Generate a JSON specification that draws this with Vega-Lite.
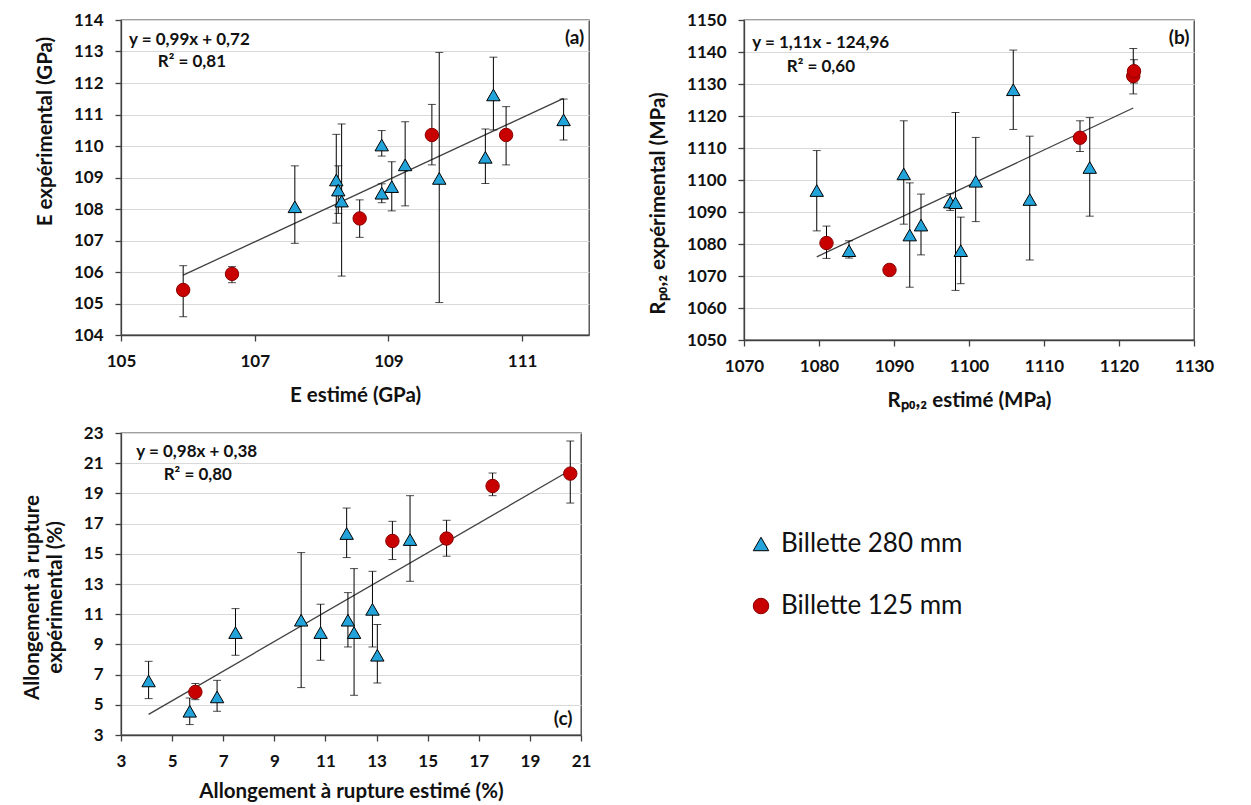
{
  "$schema": "https://vega.github.io/schema/vega-lite/v6.json",
  "background": "white",
  "padding": {"left": 22, "top": 10, "right": 5, "bottom": 5},
  "columns": 2,
  "align": "each",
  "spacing": {"row": 11, "column": 55},
  "datasets": {
    "a": [
      {"est": 107.60, "exp": 108.07, "lo": 106.91, "hi": 109.37, "series": "Billette 280 mm"},
      {"est": 108.22, "exp": 108.92, "lo": 107.55, "hi": 110.37, "series": "Billette 280 mm"},
      {"est": 108.25, "exp": 108.60, "lo": 107.86, "hi": 109.37, "series": "Billette 280 mm"},
      {"est": 108.30, "exp": 108.25, "lo": 105.87, "hi": 110.70, "series": "Billette 280 mm"},
      {"est": 108.90, "exp": 110.03, "lo": 109.68, "hi": 110.49, "series": "Billette 280 mm"},
      {"est": 108.90, "exp": 108.50, "lo": 108.20, "hi": 108.80, "series": "Billette 280 mm"},
      {"est": 109.05, "exp": 108.71, "lo": 107.94, "hi": 109.50, "series": "Billette 280 mm"},
      {"est": 109.25, "exp": 109.40, "lo": 108.10, "hi": 110.77, "series": "Billette 280 mm"},
      {"est": 109.76, "exp": 108.97, "lo": 105.03, "hi": 112.97, "series": "Billette 280 mm"},
      {"est": 110.45, "exp": 109.64, "lo": 108.81, "hi": 110.54, "series": "Billette 280 mm"},
      {"est": 110.57, "exp": 111.62, "lo": 110.51, "hi": 112.82, "series": "Billette 280 mm"},
      {"est": 111.62, "exp": 110.83, "lo": 110.19, "hi": 111.49, "series": "Billette 280 mm"},
      {"est": 105.93, "exp": 105.43, "lo": 104.58, "hi": 106.20, "series": "Billette 125 mm"},
      {"est": 106.66, "exp": 105.94, "lo": 105.66, "hi": 106.17, "series": "Billette 125 mm"},
      {"est": 108.57, "exp": 107.70, "lo": 107.10, "hi": 108.29, "series": "Billette 125 mm"},
      {"est": 109.65, "exp": 110.35, "lo": 109.40, "hi": 111.32, "series": "Billette 125 mm"},
      {"est": 110.76, "exp": 110.35, "lo": 109.40, "hi": 111.25, "series": "Billette 125 mm"}
    ],
    "ta": [{"est": 105.93, "exp": 105.90}, {"est": 111.62, "exp": 111.51}],
    "b": [
      {"est": 1079.7, "exp": 1096.7, "lo": 1084.1, "hi": 1109.2, "series": "Billette 280 mm"},
      {"est": 1084.0, "exp": 1077.9, "lo": 1075.6, "hi": 1081.0, "series": "Billette 280 mm"},
      {"est": 1091.3, "exp": 1101.9, "lo": 1086.2, "hi": 1118.5, "series": "Billette 280 mm"},
      {"est": 1092.1, "exp": 1082.8, "lo": 1066.5, "hi": 1099.1, "series": "Billette 280 mm"},
      {"est": 1093.6, "exp": 1085.9, "lo": 1076.6, "hi": 1095.6, "series": "Billette 280 mm"},
      {"est": 1097.5, "exp": 1093.1, "lo": 1090.5, "hi": 1095.7, "series": "Billette 280 mm"},
      {"est": 1098.2, "exp": 1092.9, "lo": 1065.5, "hi": 1121.1, "series": "Billette 280 mm"},
      {"est": 1098.9, "exp": 1077.9, "lo": 1067.6, "hi": 1088.4, "series": "Billette 280 mm"},
      {"est": 1100.9, "exp": 1099.6, "lo": 1087.0, "hi": 1113.3, "series": "Billette 280 mm"},
      {"est": 1105.9, "exp": 1128.2, "lo": 1115.8, "hi": 1140.6, "series": "Billette 280 mm"},
      {"est": 1108.1, "exp": 1093.9, "lo": 1075.0, "hi": 1113.7, "series": "Billette 280 mm"},
      {"est": 1116.1, "exp": 1103.9, "lo": 1088.7, "hi": 1119.5, "series": "Billette 280 mm"},
      {"est": 1081.0, "exp": 1080.3, "lo": 1075.5, "hi": 1085.6, "series": "Billette 125 mm"},
      {"est": 1089.4, "exp": 1071.9, "lo": 1070.6, "hi": 1073.2, "series": "Billette 125 mm"},
      {"est": 1114.8, "exp": 1113.2, "lo": 1108.9, "hi": 1118.5, "series": "Billette 125 mm"},
      {"est": 1121.9, "exp": 1132.5, "lo": 1126.9, "hi": 1141.1, "series": "Billette 125 mm"},
      {"est": 1122.0, "exp": 1134.0, "lo": 1130.3, "hi": 1137.6, "series": "Billette 125 mm"}
    ],
    "tb": [{"est": 1079.7, "exp": 1076.0}, {"est": 1121.9, "exp": 1122.5}],
    "c": [
      {"est": 4.08, "exp": 6.58, "lo": 5.41, "hi": 7.88, "series": "Billette 280 mm"},
      {"est": 5.69, "exp": 4.57, "lo": 3.69, "hi": 5.45, "series": "Billette 280 mm"},
      {"est": 6.76, "exp": 5.52, "lo": 4.57, "hi": 6.62, "series": "Billette 280 mm"},
      {"est": 7.48, "exp": 9.78, "lo": 8.28, "hi": 11.37, "series": "Billette 280 mm"},
      {"est": 10.05, "exp": 10.60, "lo": 6.14, "hi": 15.08, "series": "Billette 280 mm"},
      {"est": 10.81, "exp": 9.78, "lo": 7.95, "hi": 11.66, "series": "Billette 280 mm"},
      {"est": 11.83, "exp": 16.34, "lo": 14.75, "hi": 18.03, "series": "Billette 280 mm"},
      {"est": 11.88, "exp": 10.60, "lo": 8.83, "hi": 12.43, "series": "Billette 280 mm"},
      {"est": 12.12, "exp": 9.78, "lo": 5.63, "hi": 14.02, "series": "Billette 280 mm"},
      {"est": 12.84, "exp": 11.32, "lo": 8.83, "hi": 13.84, "series": "Billette 280 mm"},
      {"est": 13.03, "exp": 8.28, "lo": 6.44, "hi": 10.31, "series": "Billette 280 mm"},
      {"est": 14.31, "exp": 15.94, "lo": 13.18, "hi": 18.85, "series": "Billette 280 mm"},
      {"est": 5.91, "exp": 5.85, "lo": 5.34, "hi": 6.41, "series": "Billette 125 mm"},
      {"est": 13.62, "exp": 15.85, "lo": 14.62, "hi": 17.15, "series": "Billette 125 mm"},
      {"est": 15.74, "exp": 16.01, "lo": 14.84, "hi": 17.22, "series": "Billette 125 mm"},
      {"est": 17.54, "exp": 19.49, "lo": 18.85, "hi": 20.35, "series": "Billette 125 mm"},
      {"est": 20.58, "exp": 20.31, "lo": 18.36, "hi": 22.47, "series": "Billette 125 mm"}
    ],
    "tc": [{"est": 4.08, "exp": 4.37}, {"est": 20.58, "exp": 20.53}]
  },
  "concat": [
    {
      "width": 468, "height": 315,
      "layer": [
        {"data": {"name": "ta"}, "mark": {"type": "line", "color": "#404040", "strokeWidth": 1.3},
         "encoding": {
           "x": {"field": "est", "type": "quantitative", "scale": {"domain": [105, 112], "nice": false, "zero": false}, "axis": {"values": [105, 107, 109, 111], "tickCount": 30, "format": "d", "title": "E estimé (GPa)", "grid": false}},
           "y": {"field": "exp", "type": "quantitative", "scale": {"domain": [104, 114], "nice": false, "zero": false}, "axis": {"values": [104, 105, 106, 107, 108, 109, 110, 111, 112, 113, 114], "tickCount": 30, "format": "d", "title": "E expérimental (GPa)", "titleY": 111}}}},
        {"data": {"name": "a"}, "mark": {"type": "rule", "color": "black", "strokeWidth": 1},
         "encoding": {"x": {"field": "est", "type": "quantitative", "scale": {"domain": [105, 112], "nice": false, "zero": false}},
           "y": {"field": "lo", "type": "quantitative", "scale": {"domain": [104, 114], "nice": false, "zero": false}}, "y2": {"field": "hi"}}},
        {"data": {"name": "a"}, "mark": {"type": "tick", "orient": "horizontal", "color": "black", "size": 8, "thickness": 1},
         "encoding": {"x": {"field": "est", "type": "quantitative", "scale": {"domain": [105, 112], "nice": false, "zero": false}},
           "y": {"field": "lo", "type": "quantitative", "scale": {"domain": [104, 114], "nice": false, "zero": false}}}},
        {"data": {"name": "a"}, "mark": {"type": "tick", "orient": "horizontal", "color": "black", "size": 8, "thickness": 1},
         "encoding": {"x": {"field": "est", "type": "quantitative", "scale": {"domain": [105, 112], "nice": false, "zero": false}},
           "y": {"field": "hi", "type": "quantitative", "scale": {"domain": [104, 114], "nice": false, "zero": false}}}},
        {"data": {"name": "a"}, "mark": {"type": "point", "filled": true, "size": 180, "strokeWidth": 1, "opacity": 1},
         "encoding": {"x": {"field": "est", "type": "quantitative", "scale": {"domain": [105, 112], "nice": false, "zero": false}},
           "y": {"field": "exp", "type": "quantitative", "scale": {"domain": [104, 114], "nice": false, "zero": false}},
           "color": {"field": "series", "type": "nominal", "scale": {"domain": ["Billette 280 mm", "Billette 125 mm"], "range": ["#22A3D9", "#C80000"]}, "legend": {"title": null}},
           "shape": {"field": "series", "type": "nominal", "scale": {"domain": ["Billette 280 mm", "Billette 125 mm"], "range": ["triangle-up", "circle"]}, "legend": {"title": null}},
           "stroke": {"field": "series", "type": "nominal", "scale": {"domain": ["Billette 280 mm", "Billette 125 mm"], "range": ["#000000", "#8a0000"]}, "legend": {"title": null}}}},
        {"data": {"values": [{"t": "y = 0,99x + 0,72"}]}, "mark": {"type": "text", "align": "left", "baseline": "middle", "fontSize": 17, "fontWeight": "bold", "font": "Lato", "color": "#111"},
         "encoding": {"x": {"datum": 105.12, "type": "quantitative"}, "y": {"datum": 113.37, "type": "quantitative"}, "text": {"field": "t"}}},
        {"data": {"values": [{"t": "R² = 0,81"}]}, "mark": {"type": "text", "align": "left", "baseline": "middle", "fontSize": 17, "fontWeight": "bold", "font": "Lato", "color": "#111"},
         "encoding": {"x": {"datum": 105.55, "type": "quantitative"}, "y": {"datum": 112.66, "type": "quantitative"}, "text": {"field": "t"}}},
        {"data": {"values": [{"t": "(a)"}]}, "mark": {"type": "text", "align": "right", "baseline": "middle", "fontSize": 19, "fontWeight": "bold", "font": "Lato", "color": "#111"},
         "encoding": {"x": {"datum": 111.93, "type": "quantitative"}, "y": {"datum": 113.44, "type": "quantitative"}, "text": {"field": "t"}}}
      ]
    },
    {
      "width": 450, "height": 320,
      "layer": [
        {"data": {"name": "tb"}, "mark": {"type": "line", "color": "#404040", "strokeWidth": 1.3},
         "encoding": {
           "x": {"field": "est", "type": "quantitative", "scale": {"domain": [1070, 1130], "nice": false, "zero": false}, "axis": {"values": [1070, 1080, 1090, 1100, 1110, 1120, 1130], "tickCount": 30, "format": "d", "title": "Rₚ₀,₂ estimé (MPa)", "grid": false}},
           "y": {"field": "exp", "type": "quantitative", "scale": {"domain": [1050, 1150], "nice": false, "zero": false}, "axis": {"values": [1050, 1060, 1070, 1080, 1090, 1100, 1110, 1120, 1130, 1140, 1150], "tickCount": 30, "format": "d", "title": "Rₚ₀,₂ expérimental (MPa)", "titleY": 183}}}},
        {"data": {"name": "b"}, "mark": {"type": "rule", "color": "black", "strokeWidth": 1},
         "encoding": {"x": {"field": "est", "type": "quantitative", "scale": {"domain": [1070, 1130], "nice": false, "zero": false}},
           "y": {"field": "lo", "type": "quantitative", "scale": {"domain": [1050, 1150], "nice": false, "zero": false}}, "y2": {"field": "hi"}}},
        {"data": {"name": "b"}, "mark": {"type": "tick", "orient": "horizontal", "color": "black", "size": 8, "thickness": 1},
         "encoding": {"x": {"field": "est", "type": "quantitative", "scale": {"domain": [1070, 1130], "nice": false, "zero": false}},
           "y": {"field": "lo", "type": "quantitative", "scale": {"domain": [1050, 1150], "nice": false, "zero": false}}}},
        {"data": {"name": "b"}, "mark": {"type": "tick", "orient": "horizontal", "color": "black", "size": 8, "thickness": 1},
         "encoding": {"x": {"field": "est", "type": "quantitative", "scale": {"domain": [1070, 1130], "nice": false, "zero": false}},
           "y": {"field": "hi", "type": "quantitative", "scale": {"domain": [1050, 1150], "nice": false, "zero": false}}}},
        {"data": {"name": "b"}, "mark": {"type": "point", "filled": true, "size": 180, "strokeWidth": 1, "opacity": 1},
         "encoding": {"x": {"field": "est", "type": "quantitative", "scale": {"domain": [1070, 1130], "nice": false, "zero": false}},
           "y": {"field": "exp", "type": "quantitative", "scale": {"domain": [1050, 1150], "nice": false, "zero": false}},
           "color": {"field": "series", "type": "nominal", "scale": {"domain": ["Billette 280 mm", "Billette 125 mm"], "range": ["#22A3D9", "#C80000"]}, "legend": {"title": null}},
           "shape": {"field": "series", "type": "nominal", "scale": {"domain": ["Billette 280 mm", "Billette 125 mm"], "range": ["triangle-up", "circle"]}, "legend": {"title": null}},
           "stroke": {"field": "series", "type": "nominal", "scale": {"domain": ["Billette 280 mm", "Billette 125 mm"], "range": ["#000000", "#8a0000"]}, "legend": {"title": null}}}},
        {"data": {"values": [{"t": "y = 1,11x - 124,96"}]}, "mark": {"type": "text", "align": "left", "baseline": "middle", "fontSize": 17, "fontWeight": "bold", "font": "Lato", "color": "#111"},
         "encoding": {"x": {"datum": 1071.1, "type": "quantitative"}, "y": {"datum": 1142.7, "type": "quantitative"}, "text": {"field": "t"}}},
        {"data": {"values": [{"t": "R² = 0,60"}]}, "mark": {"type": "text", "align": "left", "baseline": "middle", "fontSize": 17, "fontWeight": "bold", "font": "Lato", "color": "#111"},
         "encoding": {"x": {"datum": 1075.7, "type": "quantitative"}, "y": {"datum": 1135.4, "type": "quantitative"}, "text": {"field": "t"}}},
        {"data": {"values": [{"t": "(b)"}]}, "mark": {"type": "text", "align": "right", "baseline": "middle", "fontSize": 19, "fontWeight": "bold", "font": "Lato", "color": "#111"},
         "encoding": {"x": {"datum": 1129.4, "type": "quantitative"}, "y": {"datum": 1144.3, "type": "quantitative"}, "text": {"field": "t"}}}
      ]
    },
    {
      "width": 460, "height": 302,
      "layer": [
        {"data": {"name": "tc"}, "mark": {"type": "line", "color": "#404040", "strokeWidth": 1.3},
         "encoding": {
           "x": {"field": "est", "type": "quantitative", "scale": {"domain": [3, 21], "nice": false, "zero": false}, "axis": {"values": [3, 5, 7, 9, 11, 13, 15, 17, 19, 21], "tickCount": 30, "format": "d", "title": "Allongement à rupture estimé (%)", "grid": false, "titlePadding": 12}},
           "y": {"field": "exp", "type": "quantitative", "scale": {"domain": [3, 23], "nice": false, "zero": false}, "axis": {"values": [3, 5, 7, 9, 11, 13, 15, 17, 19, 21, 23], "tickCount": 30, "format": "d", "title": ["Allongement à rupture", "expérimental (%)"], "titleY": 164}}}},
        {"data": {"name": "c"}, "mark": {"type": "rule", "color": "black", "strokeWidth": 1},
         "encoding": {"x": {"field": "est", "type": "quantitative", "scale": {"domain": [3, 21], "nice": false, "zero": false}},
           "y": {"field": "lo", "type": "quantitative", "scale": {"domain": [3, 23], "nice": false, "zero": false}}, "y2": {"field": "hi"}}},
        {"data": {"name": "c"}, "mark": {"type": "tick", "orient": "horizontal", "color": "black", "size": 8, "thickness": 1},
         "encoding": {"x": {"field": "est", "type": "quantitative", "scale": {"domain": [3, 21], "nice": false, "zero": false}},
           "y": {"field": "lo", "type": "quantitative", "scale": {"domain": [3, 23], "nice": false, "zero": false}}}},
        {"data": {"name": "c"}, "mark": {"type": "tick", "orient": "horizontal", "color": "black", "size": 8, "thickness": 1},
         "encoding": {"x": {"field": "est", "type": "quantitative", "scale": {"domain": [3, 21], "nice": false, "zero": false}},
           "y": {"field": "hi", "type": "quantitative", "scale": {"domain": [3, 23], "nice": false, "zero": false}}}},
        {"data": {"name": "c"}, "mark": {"type": "point", "filled": true, "size": 180, "strokeWidth": 1, "opacity": 1},
         "encoding": {"x": {"field": "est", "type": "quantitative", "scale": {"domain": [3, 21], "nice": false, "zero": false}},
           "y": {"field": "exp", "type": "quantitative", "scale": {"domain": [3, 23], "nice": false, "zero": false}},
           "color": {"field": "series", "type": "nominal", "scale": {"domain": ["Billette 280 mm", "Billette 125 mm"], "range": ["#22A3D9", "#C80000"]}, "legend": {"title": null}},
           "shape": {"field": "series", "type": "nominal", "scale": {"domain": ["Billette 280 mm", "Billette 125 mm"], "range": ["triangle-up", "circle"]}, "legend": {"title": null}},
           "stroke": {"field": "series", "type": "nominal", "scale": {"domain": ["Billette 280 mm", "Billette 125 mm"], "range": ["#000000", "#8a0000"]}, "legend": {"title": null}}}},
        {"data": {"values": [{"t": "y = 0,98x + 0,38"}]}, "mark": {"type": "text", "align": "left", "baseline": "middle", "fontSize": 17, "fontWeight": "bold", "font": "Lato", "color": "#111"},
         "encoding": {"x": {"datum": 3.6, "type": "quantitative"}, "y": {"datum": 21.74, "type": "quantitative"}, "text": {"field": "t"}}},
        {"data": {"values": [{"t": "R² = 0,80"}]}, "mark": {"type": "text", "align": "left", "baseline": "middle", "fontSize": 17, "fontWeight": "bold", "font": "Lato", "color": "#111"},
         "encoding": {"x": {"datum": 4.67, "type": "quantitative"}, "y": {"datum": 20.2, "type": "quantitative"}, "text": {"field": "t"}}},
        {"data": {"values": [{"t": "(c)"}]}, "mark": {"type": "text", "align": "right", "baseline": "middle", "fontSize": 19, "fontWeight": "bold", "font": "Lato", "color": "#111"},
         "encoding": {"x": {"datum": 20.67, "type": "quantitative"}, "y": {"datum": 4.09, "type": "quantitative"}, "text": {"field": "t"}}}
      ]
    }
  ],
  "config": {
    "font": "Lato",
    "view": {"stroke": "#404040", "strokeWidth": 1.3},
    "axis": {
      "labelFont": "Lato", "labelFontSize": 17, "labelFontWeight": "bold", "labelColor": "#111",
      "titleFont": "Lato", "titleFontSize": 20.5, "titleFontWeight": "bold", "titleColor": "#111",
      "domainColor": "#404040", "domainWidth": 1.3, "tickColor": "#404040", "tickSize": 6, "tickWidth": 1.3,
      "gridColor": "#D9D9D9", "gridWidth": 1, "labelPadding": 12, "titlePadding": 16, "labelFlush": false, "labelOverlap": false
    },
    "axisY": {"grid": true, "titlePadding": 18},
    "legend": {
      "orient": "none", "legendX": 627, "legendY": 511, "direction": "vertical",
      "labelFont": "Lato", "labelFontSize": 26, "labelColor": "#111", "labelOffset": 7, "labelLimit": 400,
      "symbolSize": 240, "symbolStrokeWidth": 1, "rowPadding": 36
    }
  }
}
